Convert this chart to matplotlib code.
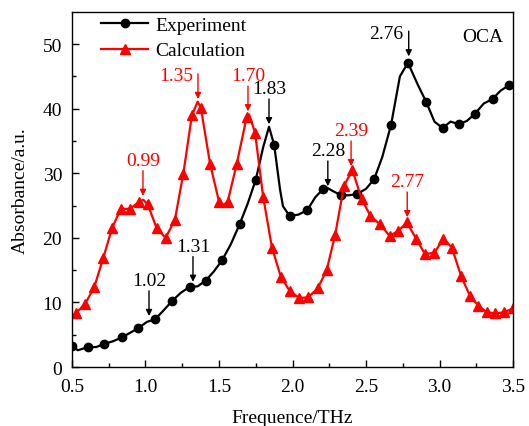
"""
Absorbance spectrum of OCA: measured vs calculated, with labelled peaks.
"""

import matplotlib
matplotlib.use("Agg")
import matplotlib.pyplot as plt
import numpy as np

# ---------------------------------------------------------------------------
# Data
# ---------------------------------------------------------------------------

exp_freq = [0.50, 0.54, 0.61, 0.665, 0.72, 0.78, 0.84, 0.895, 0.95, 1.01,
            1.065, 1.12, 1.18, 1.24, 1.30, 1.355, 1.41, 1.465, 1.52, 1.58,
            1.64, 1.695, 1.75, 1.80, 1.84, 1.875, 1.915, 1.935, 1.98, 2.04,
            2.10, 2.155, 2.21, 2.24, 2.27, 2.33, 2.385, 2.44, 2.50, 2.555,
            2.61, 2.67, 2.73, 2.785, 2.85, 2.91, 2.965, 3.02, 3.075, 3.13,
            3.185, 3.24, 3.30, 3.36, 3.415, 3.47]
exp_abs = [3.3, 2.6, 3.1, 3.1, 3.6, 4.0, 4.6, 5.3, 6.0, 7.0,
           7.4, 8.7, 10.2, 11.5, 12.4, 12.5, 13.4, 14.8, 16.5, 19.0,
           22.1, 25.3, 29.0, 34.0, 37.2, 34.4, 27.5, 24.9, 23.4, 23.6,
           24.3, 26.3, 27.6, 27.7, 27.3, 26.6, 26.6, 26.8, 27.6, 29.1,
           32.5, 37.5, 45.0, 47.1, 43.8, 41.0, 38.0, 37.0, 38.0, 37.6,
           38.1, 39.2, 40.8, 41.5, 42.8, 43.6]
exp_marker_freq = [0.50, 0.61, 0.72, 0.84, 0.95, 1.065, 1.18, 1.30, 1.41,
                   1.52, 1.64, 1.75, 1.875, 1.98, 2.10, 2.21, 2.33, 2.44,
                   2.555, 2.67, 2.785, 2.91, 3.02, 3.13, 3.24, 3.36, 3.47]

calc_freq = [0.525, 0.59, 0.652, 0.713, 0.774, 0.833, 0.895, 0.956, 0.985,
             1.015, 1.076, 1.137, 1.20, 1.257, 1.316, 1.355, 1.377, 1.439,
             1.50, 1.53, 1.559, 1.62, 1.688, 1.705, 1.745, 1.80, 1.86, 1.92,
             1.983, 2.046, 2.107, 2.171, 2.232, 2.29, 2.35, 2.407, 2.47,
             2.53, 2.595, 2.66, 2.72, 2.777, 2.84, 2.90, 2.965, 3.026, 3.083,
             3.146, 3.207, 3.264, 3.32, 3.38, 3.44, 3.50]
calc_abs = [8.3, 9.8, 12.4, 16.9, 21.6, 24.5, 24.5, 25.6, 25.9,
            25.2, 21.5, 20.0, 22.8, 29.9, 39.0, 41.1, 40.1, 31.5,
            25.6, 25.1, 25.6, 31.4, 38.7, 39.1, 36.3, 26.4, 18.5, 14.0,
            11.7, 10.7, 10.8, 12.2, 15.0, 20.5, 28.1, 30.5, 26.0,
            23.4, 22.1, 20.3, 21.1, 22.4, 19.9, 17.5, 17.7, 19.9, 18.5,
            14.1, 11.0, 9.5, 8.5, 8.3, 8.5, 9.1]
calc_extra_freq = [0.985, 1.355, 1.53, 1.705]  # curve-only points, no marker

# peak labels: (text, arrow-tip freq, arrow-tip absorbance)
exp_peaks = [("1.02", 1.024, 7.9), ("1.31", 1.323, 13.2), ("1.83", 1.84, 37.6),
             ("2.28", 2.24, 28.0), ("2.76", 2.79, 48.1)]
calc_peaks = [("0.99", 0.983, 26.5), ("1.35", 1.357, 41.5), ("1.70", 1.697, 39.6),
              ("2.39", 2.398, 31.1), ("2.77", 2.78, 23.2)]

# ---------------------------------------------------------------------------
# Style
# ---------------------------------------------------------------------------

plt.rcParams["font.family"] = ["Liberation Serif", "DejaVu Serif"]
plt.rcParams["font.size"] = 14

RED = "#ff0000"
BLACK = "#000000"
ARROW_LEN = 3.9  # in absorbance units


def peak_label(ax, text, x, y, color, ha="center"):
    """Draw a downward arrow ending at (x, y) with the label above it."""
    ax.annotate("", xy=(x, y), xytext=(x, y + ARROW_LEN),
                arrowprops=dict(arrowstyle="-|>", color=color, lw=1.0,
                                mutation_scale=9, shrinkA=0, shrinkB=0))
    if ha == "center":
        ax.text(x, y + ARROW_LEN + 0.3, text, color=color, ha="center",
                va="bottom", fontsize=14)
    else:
        ax.text(x - 0.035, y + ARROW_LEN - 0.3, text, color=color, ha="right",
                va="center", fontsize=14)


fig = plt.figure(figsize=(5.29, 4.27), dpi=100)
ax = fig.add_axes([0.136, 0.138, 0.834, 0.832])

exp_idx = [i for i, f in enumerate(exp_freq) if f in exp_marker_freq]
calc_idx = [i for i, f in enumerate(calc_freq) if f not in calc_extra_freq]

ax.plot(exp_freq, exp_abs, color=BLACK, lw=1.6, marker="o", ms=6,
        markevery=exp_idx, label="Experiment")
ax.plot(calc_freq, calc_abs, color=RED, lw=1.6, marker="^", ms=7,
        markevery=calc_idx, label="Calculation")

for text, x, y in exp_peaks:
    peak_label(ax, text, x, y, BLACK, ha="right" if text == "2.76" else "center")
for text, x, y in calc_peaks:
    peak_label(ax, text, x, y, RED, ha="right" if text == "1.35" else "center")

ax.text(0.977, 0.93, "OCA", transform=ax.transAxes, ha="right", va="center",
        fontsize=14)

ax.set_xlim(0.5, 3.5)
ax.set_ylim(0, 55)
ax.set_xticks(np.arange(0.5, 3.51, 0.5))
ax.set_xticks(np.arange(0.75, 3.5, 0.5), minor=True)
ax.set_yticks(np.arange(0, 51, 10))
ax.set_yticks(np.arange(5, 55, 10), minor=True)
ax.tick_params(which="both", direction="in", labelsize=14)
ax.tick_params(which="major", length=5, width=1)
ax.tick_params(which="minor", length=3, width=1)
ax.tick_params(axis="x", pad=8)
ax.tick_params(axis="y", pad=7)
for spine in ax.spines.values():
    spine.set_linewidth(1.0)

ax.set_xlabel("Frequence/THz", fontsize=14, labelpad=10)
ax.set_ylabel("Absorbance/a.u.", fontsize=14, labelpad=10)

ax.legend(loc="upper left", bbox_to_anchor=(0.04, 1.02), frameon=False,
          fontsize=14, handlelength=2.4, handletextpad=0.4, labelspacing=0.4,
          borderaxespad=0.2)

plt.savefig("out.png", dpi=100)
